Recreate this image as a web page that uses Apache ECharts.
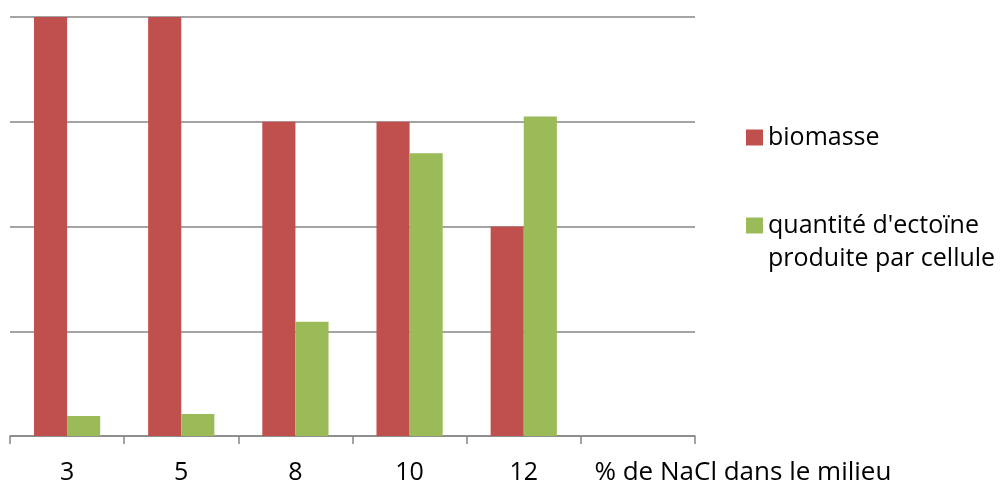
<!DOCTYPE html>
<html><head><meta charset="utf-8">
<script src="https://cdn.jsdelivr.net/npm/echarts@6/dist/echarts.min.js"></script>
<style>html,body{margin:0;padding:0;background:#fff}#c{width:1003px;height:486px}</style>
</head><body><div id="c"></div>
<script>
var categories = ['3', '5', '8', '10', '12', '% de NaCl dans le milieu'];
var biomasse = [4, 4, 3, 3, 2, null];
var ectoine = [0.19, 0.21, 1.09, 2.70, 3.05, null];
var seriesNames = ['biomasse', "quantité d'ectoïne\nproduite par cellule"];
var FONT = 'Open Sans';
var chart = echarts.init(document.getElementById('c'));
chart.setOption({
  animation: false,
  textStyle: {fontFamily: FONT},
  grid: {left: 10, right: 308, top: 17, bottom: 50},
  legend: {
    orient: 'vertical', left: 741, top: 116, itemWidth: 17, itemHeight: 16, itemGap: 22,
    icon: 'rect',
    textStyle: {fontFamily: FONT, fontSize: 25, color: '#000', lineHeight: 33},
    formatter: function (n) { return n.indexOf('\n') >= 0 ? '\n' + n : n; },
    data: seriesNames
  },
  xAxis: {
    type: 'category', data: categories,
    axisLine: {lineStyle: {color: '#868686', width: 1.5}},
    axisTick: {show: true, length: 8, lineStyle: {color: '#868686', width: 1.5}},
    axisLabel: {
      interval: 0, margin: 24, color: '#000', fontFamily: FONT, fontSize: 25,
      formatter: function (v, i) { return i === categories.length - 1 ? '{last|' + v + '}' : v; },
      rich: {last: {fontFamily: FONT, fontSize: 26, color: '#000', padding: [0, 0, 0, 210]}}
    }
  },
  yAxis: {
    type: 'value', min: 0, max: 4, interval: 1,
    axisLabel: {show: false}, axisLine: {show: false}, axisTick: {show: false},
    splitLine: {lineStyle: {color: '#868686', width: 1.5}}
  },
  series: [
    {name: seriesNames[0], type: 'bar', data: biomasse, barGap: 0, barCategoryGap: '42%', itemStyle: {color: '#C0504D'}},
    {name: seriesNames[1], type: 'bar', data: ectoine, barGap: 0, barCategoryGap: '42%', itemStyle: {color: '#9BBB59'}}
  ]
});
</script></body></html>
